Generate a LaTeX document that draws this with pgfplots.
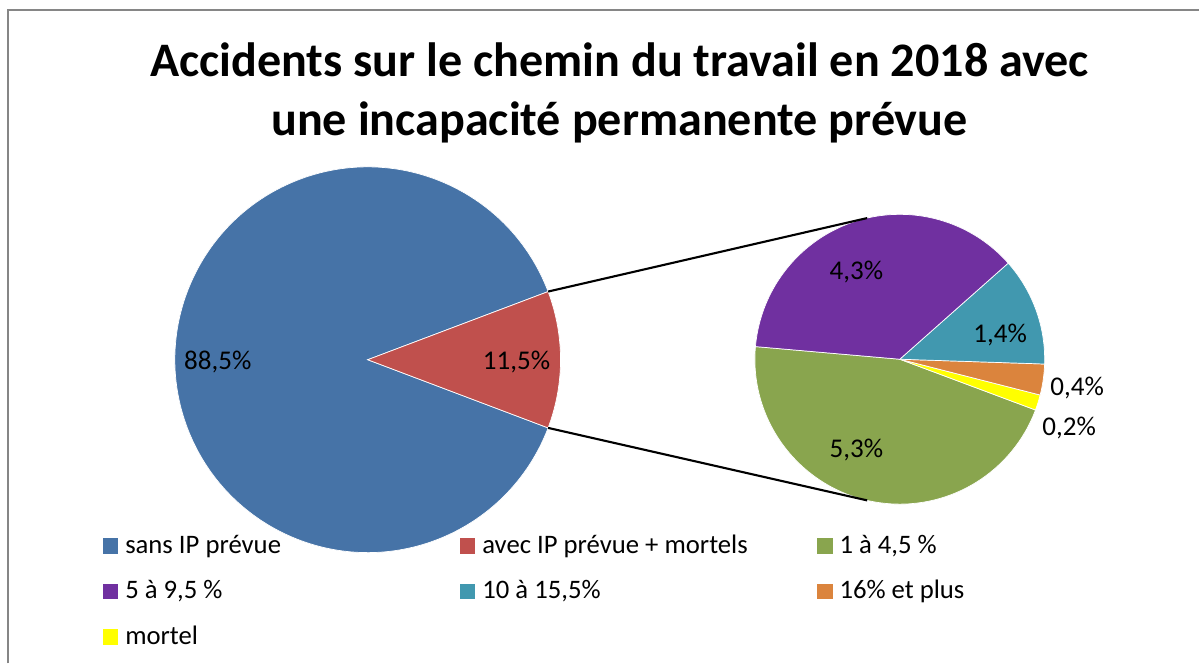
\documentclass[border=0pt]{standalone}
\usepackage{pgfplots}
\pgfplotsset{compat=1.18}
\usepackage{pgfplotstable}
\usepackage{fontspec}
\setmainfont{Carlito}
\usetikzlibrary{calc}

\definecolor{cBlue}{HTML}{4673A7}
\definecolor{cRed}{HTML}{C0504D}
\definecolor{cGreen}{HTML}{89A54E}
\definecolor{cPurple}{HTML}{7030A0}
\definecolor{cTeal}{HTML}{4198AF}
\definecolor{cOrange}{HTML}{DB843D}
\definecolor{cYellow}{HTML}{FFFF00}
\definecolor{cBorder}{HTML}{868686}

\newcommand\lblfont{\fontsize{7.7}{9}\selectfont}

% first pie: share of accidents (percent)
\pgfplotstableread{
v    col     lx   ly
88.5 cBlue   218  302
11.5 cRed    517  302
}\bigpie

% second pie: split of the 11,5 % with IP
\pgfplotstableread{
v   col      lx    ly
5.3 cGreen   857   214
0.2 cYellow  1070  236
0.4 cOrange  1078  276
1.4 cTeal    1001  329
4.3 cPurple  857   392
}\smallpie

% #1 table, #2 #3 centre (axis units), #4 radius (cm), #5 start angle
\newcommand\drawpie[5]{%
  \pgfplotstablegetrowsof{#1}\pgfmathtruncatemacro\last{\pgfplotsretval-1}%
  \def\total{0}%
  \pgfplotsforeachungrouped \i in {0,...,\last}{%
    \pgfplotstablegetelem{\i}{v}\of{#1}%
    \pgfmathsetmacro\total{\total+\pgfplotsretval}}%
  \def\angA{#5}%
  \pgfplotsforeachungrouped \i in {0,...,\last}{%
    \pgfplotstablegetelem{\i}{v}\of{#1}\let\val\pgfplotsretval
    \pgfplotstablegetelem{\i}{col}\of{#1}\let\col\pgfplotsretval
    \pgfplotstablegetelem{\i}{lx}\of{#1}\let\lx\pgfplotsretval
    \pgfplotstablegetelem{\i}{ly}\of{#1}\let\ly\pgfplotsretval
    \pgfmathsetmacro\angB{\angA+\val/\total*360}%
    \edef\cmd{%
      \noexpand\fill[\col, draw=white, line width=0.2pt] (axis cs:#2,#3) -- ++(\angA:#4cm)
        arc[start angle=\angA, end angle=\angB, radius=#4cm] -- cycle;
      \noexpand\node[font=\noexpand\lblfont, inner sep=0pt] at (axis cs:\lx,\ly)
        {\noexpand\pgfmathprintnumber[use comma,fixed,fixed zerofill,precision=1,
          /pgf/number format/assume math mode=true]{\val}\noexpand\%};}%
    \cmd
    \let\angA\angB}%
}

\begin{document}
\begin{tikzpicture}
\begin{axis}[
  scale only axis,
  width=12cm, height=6.64cm,
  xmin=0, xmax=1200, ymin=0, ymax=664,
  hide axis, clip=false,
  title={Accidents sur le chemin du travail en 2018 avec\\une incapacité permanente prévue},
  title style={at={(axis cs:620,601)}, anchor=north, align=center, inner sep=0pt,
    font=\fontsize{13.7}{16.8}\selectfont\bfseries},
  legend columns=3,
  legend image code/.code={\fill[#1] (0cm,-0.07cm) rectangle (0.14cm,0.07cm);
    \path (0.21cm,0cm);},
  legend style={at={(axis description cs:0.0858,0.196)}, anchor=north west,
    draw=none, fill=none, inner sep=0pt, outer sep=0pt, row sep=0.205cm,
    column sep=0pt,
    nodes={inner sep=0pt, outer sep=0pt, text height=0.2cm, text depth=0.05cm,
      font=\fontsize{7.6}{9}\selectfont}},
  legend cell align=left,
]
\path (axis cs:0,0) rectangle (axis cs:1200,664);
\draw[cBorder, line width=0.55pt] (axis cs:8,0) -- (axis cs:8,654) -- (axis cs:1200,654);

\drawpie{\bigpie}{368}{304}{1.93}{20.7}
\drawpie{\smallpie}{900.5}{304.5}{1.45}{175}

\draw[black, line width=0.6pt] ($(axis cs:368,304)+(20.7:1.93cm)$) -- ($(axis cs:900.5,304.5)+(103:1.45cm)$);
\draw[black, line width=0.6pt] ($(axis cs:368,304)+(-20.7:1.93cm)$) -- ($(axis cs:900.5,304.5)+(-103:1.45cm)$);

\addlegendimage{cBlue}\addlegendentry{\makebox[3.35cm][l]{sans IP prévue}}
\addlegendimage{cRed}\addlegendentry{\makebox[3.35cm][l]{avec IP prévue + mortels}}
\addlegendimage{cGreen}\addlegendentry{\makebox[3.35cm][l]{1 à 4,5 \%}}
\addlegendimage{cPurple}\addlegendentry{\makebox[3.35cm][l]{5 à 9,5 \%}}
\addlegendimage{cTeal}\addlegendentry{\makebox[3.35cm][l]{10 à 15,5\%}}
\addlegendimage{cOrange}\addlegendentry{\makebox[3.35cm][l]{16\% et plus}}
\addlegendimage{cYellow}\addlegendentry{\makebox[3.35cm][l]{mortel}}
\end{axis}
\end{tikzpicture}
\end{document}
